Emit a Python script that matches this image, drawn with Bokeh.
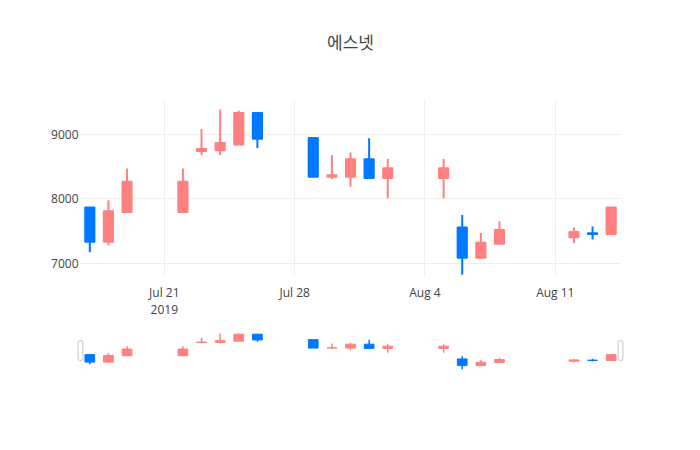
import pandas as pd
from bokeh.plotting import figure
from bokeh.layouts import column, row
from bokeh.models import ColumnDataSource, FixedTicker, Range1d, BoxAnnotation, Title
from bokeh.embed import file_html
from bokeh.resources import INLINE

title_text = "에스넷"
dates = ["2019-07-17", "2019-07-18", "2019-07-19", "2019-07-22", "2019-07-23",
         "2019-07-24", "2019-07-25", "2019-07-26", "2019-07-29", "2019-07-30",
         "2019-07-31", "2019-08-01", "2019-08-02", "2019-08-05", "2019-08-06",
         "2019-08-07", "2019-08-08", "2019-08-12", "2019-08-13", "2019-08-14"]
opens = [7870, 7330, 7790, 7790, 8740, 8750, 8840, 9340, 8950, 8340,
         8340, 8620, 8320, 8320, 7560, 7080, 7300, 7400, 7470, 7450]
highs = [7870, 7980, 8470, 8470, 9080, 9390, 9370, 9340, 8950, 8680,
         8720, 8940, 8620, 8620, 7750, 7470, 7650, 7560, 7570, 7870]
lows = [7170, 7280, 7790, 7790, 8680, 8680, 8840, 8790, 8340, 8310,
        8190, 8320, 8010, 8010, 6820, 7080, 7300, 7310, 7370, 7450]
closes = [7330, 7810, 8270, 8270, 8780, 8870, 9340, 8930, 8340, 8370,
          8620, 8320, 8480, 8480, 7080, 7320, 7520, 7490, 7450, 7870]
tick_dates = ["2019-07-21", "2019-07-28", "2019-08-04", "2019-08-11"]
tick_labels = ["Jul 21\n2019", "Jul 28", "Aug 4", "Aug 11"]
y_ticks = [7000, 8000, 9000]

INC = "#ff8080"
DEC = "#0078ff"
FONT = "Open Sans"

base = pd.Timestamp(tick_dates[0])
xs = [(pd.Timestamp(d) - base).days for d in dates]
tick_x = [(pd.Timestamp(d) - base).days for d in tick_dates]
colors = [INC if c >= o else DEC for o, c in zip(opens, closes)]
src = ColumnDataSource(dict(
    x=xs, high=highs, low=lows,
    top=[max(o, c) for o, c in zip(opens, closes)],
    bottom=[min(o, c) for o, c in zip(opens, closes)],
    color=colors,
))

x0, x1 = min(xs) - 0.5, max(xs) + 0.5

p = figure(width=700, height=331, x_range=Range1d(x0, x1), y_range=Range1d(6793, 9544),
           output_backend="svg", toolbar_location=None,
           min_border_left=80, min_border_right=80, min_border_top=99, min_border_bottom=55)
# spacer panel between frame and title, then the title itself
p.add_layout(Title(text=" ", text_font_size="1px", standoff=33), "above")
p.add_layout(Title(text=title_text, align="center", text_font="Noto Sans CJK KR",
                   text_font_size="17px", text_font_style="normal", text_color="#444444",
                   standoff=20), "above")
p.outline_line_color = None
p.background_fill_color = "white"
p.border_fill_color = "white"

p.segment(x0="x", y0="low", x1="x", y1="high", color="color", line_width=2, source=src)
p.vbar(x="x", top="top", bottom="bottom", width=0.52, fill_color="color", line_color="color",
       line_width=1.5, source=src)

p.xaxis.ticker = FixedTicker(ticks=tick_x)
p.xaxis.major_label_overrides = {t: l for t, l in zip(tick_x, tick_labels)}
p.yaxis.ticker = FixedTicker(ticks=y_ticks)
for ax in (p.xaxis, p.yaxis):
    ax.axis_line_color = None
    ax.major_tick_line_color = None
    ax.minor_tick_line_color = None
    ax.major_label_text_font = FONT
    ax.major_label_text_font_size = "12px"
    ax.major_label_text_color = "#444444"
p.xaxis.major_label_standoff = 1
p.xaxis.major_label_text_line_height = 1.05
p.yaxis.major_label_standoff = -4
p.grid.grid_line_color = "#eeeeee"
p.grid.grid_line_width = 1

# range slider (frame widened by a few pixels so the grab handles are not clipped)
px_per_day = 540 / (x1 - x0)
pad = 6 / px_per_day
sy0, sy1 = 6654, 9536
s = figure(width=700, height=119, x_range=Range1d(x0 - pad, x1 + pad), y_range=Range1d(sy0, sy1),
           output_backend="svg", toolbar_location=None, x_axis_location=None, y_axis_location=None,
           min_border_left=74, min_border_right=74, min_border_top=0, min_border_bottom=79)
s.grid.visible = False
s.outline_line_color = None
s.segment(x0="x", y0="low", x1="x", y1="high", color="color", line_width=1.5, source=src)
s.vbar(x="x", top="top", bottom="bottom", width=0.52, fill_color="color", line_color="color",
       line_width=1, source=src)
upp = (sy1 - sy0) / 40.0
htop = sy1 - 9 * upp
hbot = sy1 - 29 * upp
hw = 2.4 / px_per_day
for hx in (x0, x1):
    s.add_layout(BoxAnnotation(left=hx - hw, right=hx + hw, bottom=hbot, top=htop,
                               fill_color="white", fill_alpha=1, line_color="#444444",
                               line_width=1, border_radius=2))

layout = column(p, row(s), spacing=0)
open("out.html", "w").write(file_html(layout, INLINE))
